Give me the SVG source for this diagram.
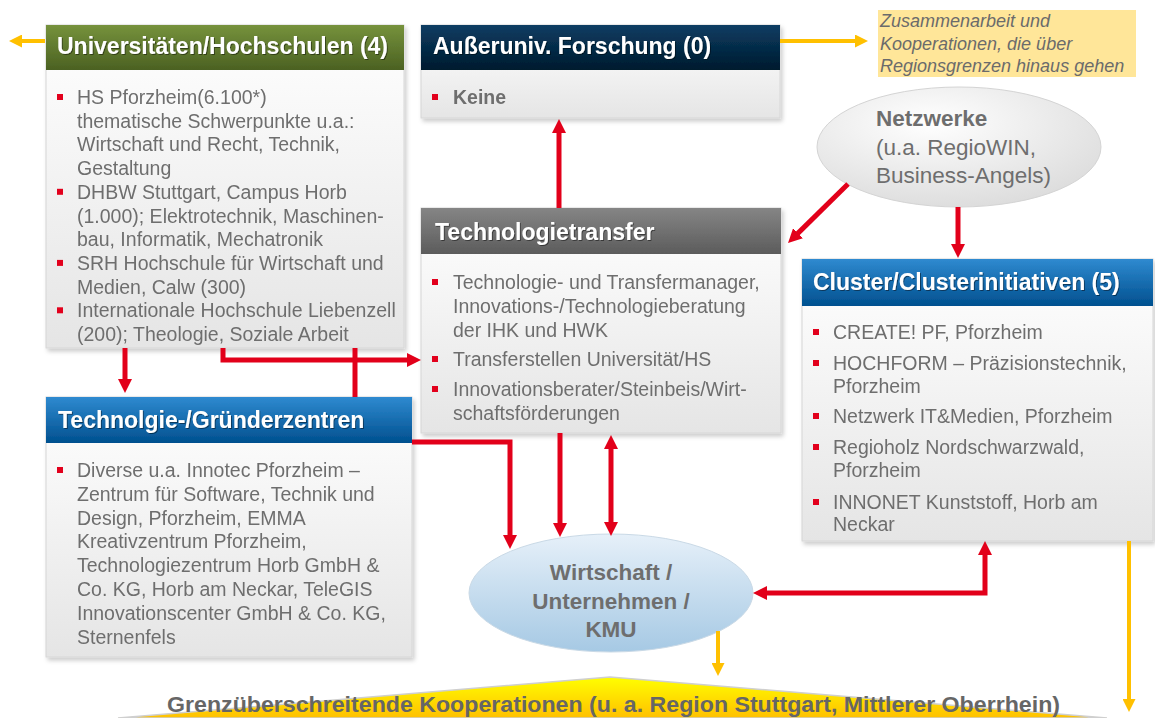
<svg xmlns="http://www.w3.org/2000/svg" width="1155" height="718" viewBox="0 0 1155 718">
<style>
.hdr{font-family:"Liberation Sans",Arial,sans-serif;font-weight:bold;font-size:23px;fill:#fff}
.bt{font-family:"Liberation Sans",Arial,sans-serif;font-size:19.5px;fill:#6e6e6e}
.bb{font-family:"Liberation Sans",Arial,sans-serif;font-size:19.5px;font-weight:bold;fill:#6e6e6e}
.bul{fill:#e2001a}
.body{fill:url(#gBody);stroke:#d6d6d6;stroke-width:1}
.red{stroke:#e2001a;stroke-width:5;fill:none}
.yel{stroke:#ffc000;stroke-width:4;fill:none}
.note{font-family:"Liberation Sans",Arial,sans-serif;font-style:italic;font-size:18px;fill:#6b6b6b}
.ell{font-family:"Liberation Sans",Arial,sans-serif;font-size:22.5px;fill:#6e6e6e}
</style>
<defs>
<linearGradient id="gBody" x1="0" y1="0" x2="0" y2="1"><stop offset="0" stop-color="#ffffff"/><stop offset="1" stop-color="#e5e5e5"/></linearGradient>
<linearGradient id="gGreen" x1="0" y1="0" x2="0" y2="1"><stop offset="0" stop-color="#76923c"/><stop offset="1" stop-color="#4b6122"/></linearGradient>
<linearGradient id="gNavy" x1="0" y1="0" x2="0" y2="1"><stop offset="0" stop-color="#0b3d63"/><stop offset="1" stop-color="#001a2e"/></linearGradient>
<linearGradient id="gGray" x1="0" y1="0" x2="0" y2="1"><stop offset="0" stop-color="#858585"/><stop offset="1" stop-color="#5c5c5c"/></linearGradient>
<linearGradient id="gBlue" x1="0" y1="0" x2="0" y2="1"><stop offset="0" stop-color="#2f8ad0"/><stop offset="1" stop-color="#00508f"/></linearGradient>
<radialGradient id="gNetz" cx="0.4" cy="0.3" r="0.8"><stop offset="0" stop-color="#ffffff"/><stop offset="1" stop-color="#d9d9d9"/></radialGradient>
<linearGradient id="gWirt" x1="0" y1="0" x2="0" y2="1"><stop offset="0" stop-color="#e6f0f9"/><stop offset="1" stop-color="#a6c9e4"/></linearGradient>
<linearGradient id="gTri" x1="0" y1="0" x2="0" y2="1"><stop offset="0" stop-color="#ffff00"/><stop offset="1" stop-color="#ffc000"/></linearGradient>
<filter id="sh" x="-5%" y="-5%" width="112%" height="115%"><feDropShadow dx="2" dy="3" stdDeviation="2" flood-color="#000" flood-opacity="0.2"/></filter>
<filter id="tsh"><feDropShadow dx="1" dy="1" stdDeviation="0.6" flood-color="#000" flood-opacity="0.45"/></filter>
<marker id="ar" markerUnits="userSpaceOnUse" viewBox="0 0 14 14" refX="1" refY="7" markerWidth="14" markerHeight="14" orient="auto-start-reverse"><path d="M0,0 L14,7 L0,14 z" fill="#e2001a"/></marker>
<marker id="ay" markerUnits="userSpaceOnUse" viewBox="0 0 13 13" refX="1" refY="6.5" markerWidth="13" markerHeight="13" orient="auto-start-reverse"><path d="M0,0 L13,6.5 L0,13 z" fill="#ffc000"/></marker>
</defs>
<rect width="1155" height="718" fill="#ffffff"/>

<g id="grenz">
<polygon points="610,677 118,718 1107,718" fill="url(#gTri)" stroke="#cfcfcf" stroke-width="1.5"/>
<text x="167" y="712" textLength="893" lengthAdjust="spacingAndGlyphs" font-family="Liberation Sans, Arial, sans-serif" font-weight="bold" font-size="22" fill="#666666">Grenzüberschreitende Kooperationen (u. a. Region Stuttgart, Mittlerer Oberrhein)</text>
</g>

<g id="note">
<rect x="878" y="10" width="258" height="67" fill="#ffe699"/>
<text class="note" x="880" y="27">Zusammenarbeit und</text>
<text class="note" x="880" y="50">Kooperationen, die über</text>
<text class="note" x="880" y="72">Regionsgrenzen hinaus gehen</text>
</g>

<g id="uni" filter="url(#sh)">
<rect class="body" x="46" y="25" width="358" height="323"/>
<rect x="46" y="25" width="358" height="45" fill="url(#gGreen)"/>
<text class="hdr" x="57" y="54" filter="url(#tsh)">Universitäten/Hochschulen (4)</text>
<rect class="bul" x="57" y="94" width="6" height="6"/>
<text class="bt" x="77" y="104">HS Pforzheim(6.100*)</text>
<text class="bt" x="77" y="127.7">thematische Schwerpunkte u.a.:</text>
<text class="bt" x="77" y="151.4">Wirtschaft und Recht, Technik,</text>
<text class="bt" x="77" y="175.1">Gestaltung</text>
<rect class="bul" x="57" y="188.8" width="6" height="6"/>
<text class="bt" x="77" y="198.8">DHBW Stuttgart, Campus Horb</text>
<text class="bt" x="77" y="222.5">(1.000); Elektrotechnik, Maschinen-</text>
<text class="bt" x="77" y="246.2">bau, Informatik, Mechatronik</text>
<rect class="bul" x="57" y="259.9" width="6" height="6"/>
<text class="bt" x="77" y="269.9">SRH Hochschule für Wirtschaft und</text>
<text class="bt" x="77" y="293.6">Medien, Calw (300)</text>
<rect class="bul" x="57" y="307.3" width="6" height="6"/>
<text class="bt" x="77" y="317.3">Internationale Hochschule Liebenzell</text>
<text class="bt" x="77" y="341">(200); Theologie, Soziale Arbeit</text>
</g>

<g id="aussenuniv" filter="url(#sh)">
<rect class="body" x="421" y="25" width="359" height="93"/>
<rect x="421" y="25" width="359" height="45" fill="url(#gNavy)"/>
<text class="hdr" x="433" y="54" filter="url(#tsh)">Außeruniv. Forschung (0)</text>
<rect class="bul" x="432" y="94" width="6" height="6"/>
<text class="bb" x="453" y="104">Keine</text>
</g>

<g id="netzwerke">
<ellipse cx="959" cy="147" rx="142" ry="60" fill="url(#gNetz)" stroke="#d4d4d4" stroke-width="1"/>
<text class="ell" x="876" y="126" font-weight="bold">Netzwerke</text>
<text class="ell" x="876" y="155">(u.a. RegioWIN,</text>
<text class="ell" x="876" y="183">Business-Angels)</text>
</g>

<g id="transfer" filter="url(#sh)">
<rect class="body" x="421" y="208" width="360" height="225"/>
<rect x="421" y="208" width="360" height="46" fill="url(#gGray)"/>
<text class="hdr" x="435" y="240" filter="url(#tsh)">Technologietransfer</text>
<rect class="bul" x="432" y="279" width="6" height="6"/>
<text class="bt" x="453" y="289">Technologie- und Transfermanager,</text>
<text class="bt" x="453" y="313">Innovations-/Technologieberatung</text>
<text class="bt" x="453" y="337">der IHK und HWK</text>
<rect class="bul" x="432" y="356" width="6" height="6"/>
<text class="bt" x="453" y="366">Transferstellen Universität/HS</text>
<rect class="bul" x="432" y="386" width="6" height="6"/>
<text class="bt" x="453" y="396">Innovationsberater/Steinbeis/Wirt-</text>
<text class="bt" x="453" y="420">schaftsförderungen</text>
</g>

<g id="cluster" filter="url(#sh)">
<rect class="body" x="802" y="259" width="351" height="282"/>
<rect x="802" y="259" width="351" height="47" fill="url(#gBlue)"/>
<text class="hdr" x="813" y="290" filter="url(#tsh)">Cluster/Clusterinitiativen (5)</text>
<rect class="bul" x="813" y="329" width="6" height="6"/>
<text class="bt" x="833" y="339">CREATE! PF, Pforzheim</text>
<rect class="bul" x="813" y="360" width="6" height="6"/>
<text class="bt" x="833" y="370">HOCHFORM – Präzisionstechnik,</text>
<text class="bt" x="833" y="393">Pforzheim</text>
<rect class="bul" x="813" y="413" width="6" height="6"/>
<text class="bt" x="833" y="423">Netzwerk IT&amp;Medien, Pforzheim</text>
<rect class="bul" x="813" y="444" width="6" height="6"/>
<text class="bt" x="833" y="454">Regioholz Nordschwarzwald,</text>
<text class="bt" x="833" y="477">Pforzheim</text>
<rect class="bul" x="813" y="499" width="6" height="6"/>
<text class="bt" x="833" y="509">INNONET Kunststoff, Horb am</text>
<text class="bt" x="833" y="531">Neckar</text>
</g>

<g id="gruender" filter="url(#sh)">
<rect class="body" x="46" y="397" width="366" height="260"/>
<rect x="46" y="397" width="366" height="46" fill="url(#gBlue)"/>
<text class="hdr" x="58" y="428" filter="url(#tsh)">Technolgie-/Gründerzentren</text>
<rect class="bul" x="57" y="467" width="6" height="6"/>
<text class="bt" x="77" y="477">Diverse u.a. Innotec Pforzheim –</text>
<text class="bt" x="77" y="500.8">Zentrum für Software, Technik und</text>
<text class="bt" x="77" y="524.6">Design, Pforzheim, EMMA</text>
<text class="bt" x="77" y="548.4">Kreativzentrum Pforzheim,</text>
<text class="bt" x="77" y="572.2">Technologiezentrum Horb GmbH &amp;</text>
<text class="bt" x="77" y="596">Co. KG, Horb am Neckar, TeleGIS</text>
<text class="bt" x="77" y="619.8">Innovationscenter GmbH &amp; Co. KG,</text>
<text class="bt" x="77" y="643.6">Sternenfels</text>
</g>

<g id="wirtschaft">
<ellipse cx="611" cy="593" rx="142" ry="59" fill="url(#gWirt)" stroke="#c9d9e6" stroke-width="1"/>
<text class="ell" x="611" y="580" text-anchor="middle" font-weight="bold" fill="#646464">Wirtschaft /</text>
<text class="ell" x="611" y="609" text-anchor="middle" font-weight="bold" fill="#646464">Unternehmen /</text>
<text class="ell" x="611" y="637" text-anchor="middle" font-weight="bold" fill="#646464">KMU</text>
</g>

<g id="connectors">
<path class="red" d="M125,348 V380" marker-end="url(#ar)"/>
<path class="red" d="M223,348 V360 H408" marker-end="url(#ar)"/>
<path class="red" d="M355,348 V397"/>
<path class="red" d="M412,442 H510 V536" marker-end="url(#ar)"/>
<path class="red" d="M560,433 V524" marker-end="url(#ar)"/>
<path class="red" d="M611,448 V523" marker-start="url(#ar)" marker-end="url(#ar)"/>
<path class="red" d="M559,208 V132" marker-end="url(#ar)"/>
<path class="red" d="M848,184 L797.3,233.9" marker-end="url(#ar)"/>
<path class="red" d="M958,207 V245" marker-end="url(#ar)"/>
<path class="red" d="M766,593 H985 V554" marker-start="url(#ar)" marker-end="url(#ar)"/>
<path class="yel" d="M45,41 H21" marker-end="url(#ay)"/>
<path class="yel" d="M780,41 H856" marker-end="url(#ay)"/>
<path class="yel" d="M718,631 V664" marker-end="url(#ay)"/>
<path class="yel" d="M1129,541 V700" marker-end="url(#ay)"/>
</g>
</svg>
